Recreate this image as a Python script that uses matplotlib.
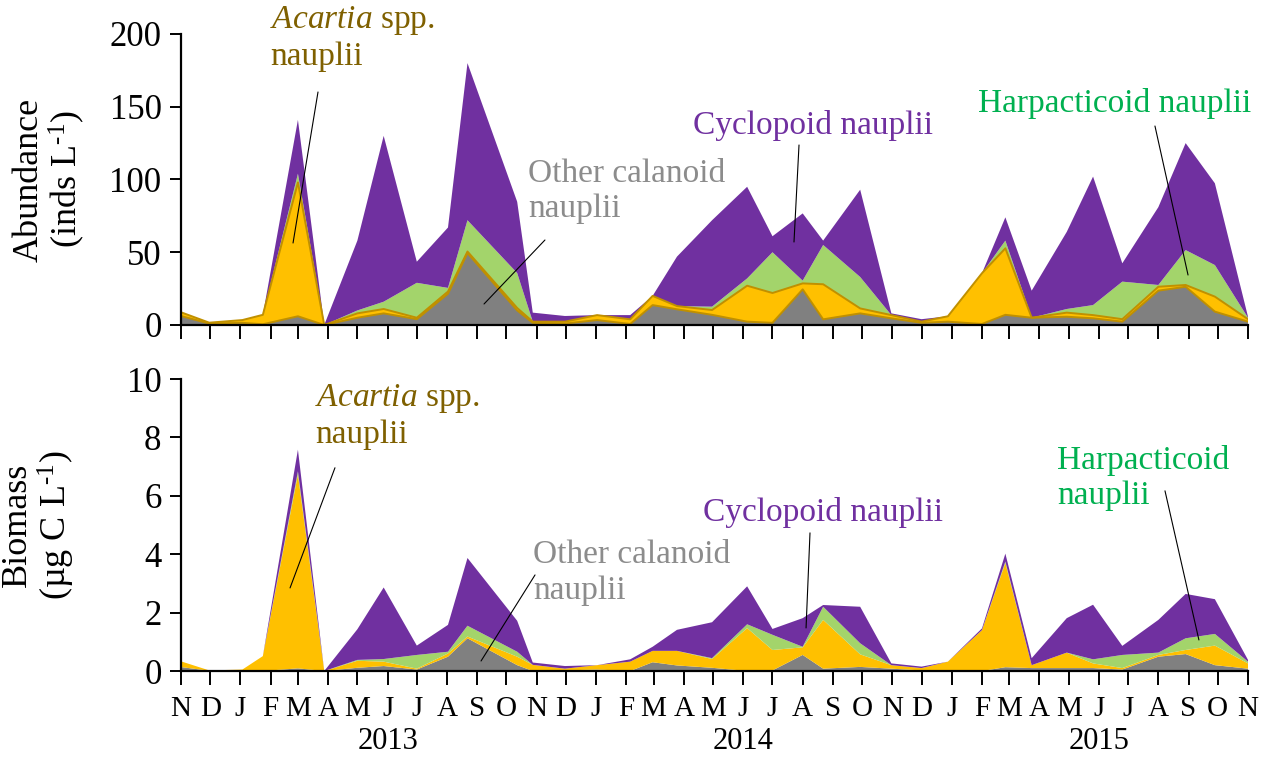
import numpy as np
import pandas as pd
import matplotlib
matplotlib.use("Agg")
import matplotlib.pyplot as plt
import matplotlib.dates as mdates
from matplotlib.ticker import FuncFormatter

plt.rcParams['font.family'] = ['Liberation Serif', 'DejaVu Serif']
plt.rcParams['mathtext.fontset'] = 'custom'
plt.rcParams['mathtext.rm'] = 'Liberation Serif'
plt.rcParams['mathtext.it'] = 'Liberation Serif:italic'

# sampling dates
sample_dates = ['2012-11-02', '2012-11-30', '2013-01-03', '2013-01-24', '2013-03-01',
                '2013-03-28', '2013-05-01', '2013-05-28', '2013-07-01', '2013-08-02',
                '2013-08-22', '2013-10-12', '2013-10-28', '2013-11-30', '2014-01-02',
                '2014-02-05', '2014-02-28', '2014-03-25', '2014-04-30', '2014-06-05',
                '2014-07-01', '2014-08-01', '2014-08-22', '2014-09-29', '2014-10-31',
                '2014-12-01', '2014-12-28', '2015-02-01', '2015-02-25', '2015-03-24',
                '2015-04-29', '2015-05-26', '2015-06-25', '2015-08-01', '2015-08-29',
                '2015-09-28', '2015-11-01']

# abundance (inds L-1)
abund_other = [6, 1, 1.5, 0.5, 6, 0, 5, 8, 4, 21.5, 49.5, 10, 1.5, 1, 3.4, 0.7, 13.7, 10.8, 7,
               2.3, 1.5, 24.5, 3.9, 8, 4.6, 1.5, 2.3, 0.7, 7, 5, 5.7, 4.6, 2.3, 23.6, 26.3, 9.2, 2.3]
abund_acartia = [2.5, 0.6, 1.9, 6.5, 92, 0, 3, 3, 1, 1.5, 1, 1.7, 0.8, 1.3, 3.4, 3.2, 6.3, 2.2,
                 3.3, 24.7, 20.5, 4.1, 24.1, 3.4, 2.2, 0.8, 3.7, 34.9, 45.7, 0, 2.8, 2.2, 1.7,
                 2.7, 1.2, 10.3, 1.7]
abund_harpact = [0, 0, 0, 0, 6, 0, 2, 5, 24, 2.5, 21.5, 24, 0, 0, 0, 0, 0, 0, 2.3, 5, 28, 1.9,
                 27, 21.6, 0, 0, 0, 0, 5.3, 0, 2.5, 6.9, 25.8, 1.2, 24, 21.7, 1]
abund_cyclo = [0, 0, 0, 0, 37, 0, 48, 114, 14.5, 41.5, 108, 49, 6.2, 3.9, 0, 2.9, 0, 34, 59.4,
               63, 11, 46.2, 3, 60, 1.2, 1.7, 0, 0, 16, 18.6, 53, 88.3, 12.6, 53.5, 73.5, 56.2, 0.7]

# biomass (ug C L-1)
bio_other = [0.13, 0.01, 0.02, 0, 0.09, 0, 0.11, 0.17, 0.05, 0.49, 1.12, 0.2, 0, 0.02, 0.05, 0,
             0.3, 0.19, 0.11, 0, 0.02, 0.55, 0.08, 0.14, 0.08, 0.02, 0, 0, 0.13, 0.1, 0.1, 0.1,
             0.05, 0.49, 0.58, 0.2, 0.08]
bio_acartia = [0.19, 0.01, 0.03, 0.51, 6.64, 0, 0.24, 0.15, 0.03, 0.11, 0.06, 0.29, 0.21, 0.06,
               0.15, 0.32, 0.39, 0.5, 0.3, 1.47, 0.7, 0.26, 1.67, 0.43, 0.12, 0.08, 0.32, 1.4,
               3.57, 0.1, 0.53, 0.16, 0.05, 0.06, 0.14, 0.67, 0.18]
bio_harpact = [0, 0, 0, 0, 0.11, 0, 0.03, 0.09, 0.47, 0.06, 0.37, 0.17, 0, 0, 0, 0, 0, 0, 0.03,
               0.13, 0.52, 0.02, 0.45, 0.38, 0, 0, 0, 0, 0.05, 0, 0, 0.14, 0.45, 0.08, 0.4, 0.4, 0.06]
bio_cyclo = [0, 0, 0, 0, 0.74, 0, 1.05, 2.45, 0.32, 0.92, 2.32, 1.06, 0.08, 0.09, 0, 0.08, 0.14,
             0.72, 1.23, 1.3, 0.2, 0.98, 0.06, 1.25, 0.06, 0.05, 0, 0.06, 0.27, 0.24, 1.18, 1.87,
             0.31, 1.12, 1.52, 1.19, 0.06]

years = ['2013', '2014', '2015']

colors = ['#808080', '#FFC000', '#A3D46B', '#7030A0']
gold_edge = '#C09000'
c_acartia = '#7F6000'
c_other = '#8C8C8C'
c_cyclo = '#7030A0'
c_harp = '#00B050'

x = pd.to_datetime(sample_dates)
xmin, xmax = pd.Timestamp('2012-11-01'), pd.Timestamp('2015-11-01')

fig = plt.figure(figsize=(12.66, 7.6), dpi=100)
ax1 = fig.add_axes([181 / 1266, 1 - 325 / 760, 1067 / 1266, 291 / 760])
ax2 = fig.add_axes([181 / 1266, 1 - 671 / 760, 1067 / 1266, 292 / 760])


def style_axis(ax, ymax, step, show_labels):
    ax.set_xlim(xmin, xmax)
    ax.set_ylim(0, ymax)
    ax.set_yticks(np.arange(0, ymax + step / 2, step))
    for s in ['top', 'right']:
        ax.spines[s].set_visible(False)
    for s in ['left', 'bottom']:
        ax.spines[s].set_linewidth(1.6)
    ax.xaxis.set_major_locator(mdates.MonthLocator(bymonthday=1))
    if show_labels:
        ax.xaxis.set_major_formatter(
            FuncFormatter(lambda v, p: mdates.num2date(v).strftime('%b')[0]))
    else:
        ax.xaxis.set_major_formatter(FuncFormatter(lambda v, p: ''))
    ax.tick_params(axis='x', direction='out', length=10, width=1.4, labelsize=21, pad=8)
    ax.tick_params(axis='y', direction='out', length=8, width=1.4, labelsize=25, pad=6)


# abundance panel
ax1.stackplot(x, abund_other, abund_acartia, abund_harpact, abund_cyclo,
              colors=colors, linewidth=0)
c1 = np.array(abund_other)
c2 = c1 + np.array(abund_acartia)
ax1.plot(x, c1, color=gold_edge, lw=1.4)
ax1.plot(x, c2, color=gold_edge, lw=1.4)
style_axis(ax1, 200, 50, False)
ax1.set_ylabel('Abundance\n(inds L$^{\\text{-1}}$)', fontsize=26, labelpad=16, linespacing=1.05)

# biomass panel
ax2.stackplot(x, bio_other, bio_acartia, bio_harpact, bio_cyclo,
              colors=colors, linewidth=0)
style_axis(ax2, 10, 2, True)
ax2.set_ylabel('Biomass\n(µg C L$^{\\text{-1}}$)', fontsize=26, labelpad=36, linespacing=1.05)

# year labels under the month letters
for yr in years:
    ax2.text(pd.Timestamp(yr + '-06-01'), -0.24, yr, transform=ax2.get_xaxis_transform(),
             ha='center', va='center', fontsize=22)


def label(ax, txt, pos, start, tip, color):
    ax.text(pos[0], pos[1], txt, transform=ax.transAxes, ha='left', va='top',
            fontsize=24, color=color, linespacing=1.2, clip_on=False)
    ax.annotate('', xy=tip, xytext=start, xycoords='axes fraction',
                textcoords='axes fraction',
                arrowprops=dict(arrowstyle='-', color='black', lw=0.8,
                                shrinkA=0, shrinkB=0))


label(ax1, '$\\mathit{Acartia}$ spp.\nnauplii', (0.0834, 1.103), (0.1284, 0.8007), (0.105, 0.2818), c_acartia)
label(ax1, 'Other calanoid\nnauplii', (0.325, 0.5715), (0.3411, 0.2921), (0.284, 0.0722), c_other)
label(ax1, 'Cyclopoid nauplii', (0.48, 0.7388), (0.5792, 0.6186), (0.5745, 0.2852), c_cyclo)
label(ax1, 'Harpacticoid nauplii', (0.747, 0.8144), (0.9128, 0.6838), (0.9438, 0.1718), c_harp)

label(ax2, '$\\mathit{Acartia}$ spp.\nnauplii', (0.1256, 0.9907), (0.1443, 0.696), (0.1022, 0.2845), c_acartia)
label(ax2, 'Other calanoid\nnauplii', (0.33, 0.449), (0.3318, 0.329), (0.2812, 0.0343), c_other)
label(ax2, 'Cyclopoid nauplii', (0.489, 0.5965), (0.5895, 0.473), (0.5858, 0.1474), c_cyclo)
label(ax2, 'Harpacticoid\nnauplii', (0.821, 0.7748), (0.9222, 0.617), (0.954, 0.1063), c_harp)

fig.savefig('out.png', dpi=100)
